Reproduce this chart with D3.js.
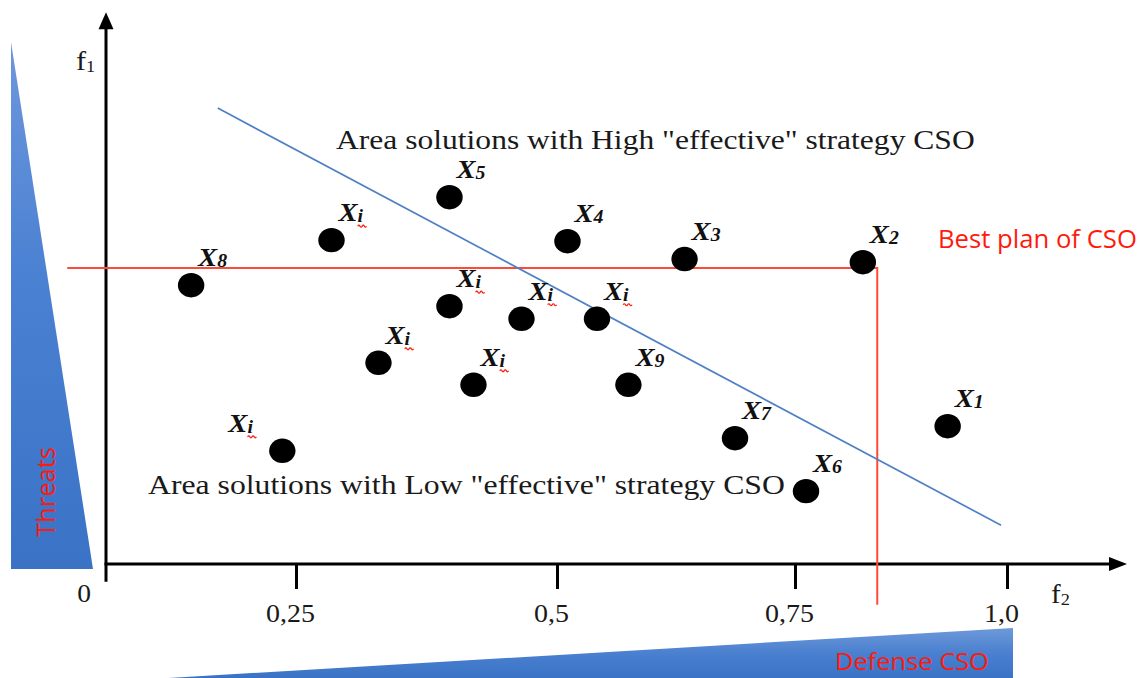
<!DOCTYPE html>
<html><head><meta charset="utf-8">
<script src="https://cdn.jsdelivr.net/npm/d3@7"></script>
<style>html,body{margin:0;padding:0;background:#fff;overflow:hidden;} svg{display:block;}</style>
</head><body>
<svg id="chart" width="1147" height="678"></svg>
<script>
// ---------------- data ----------------
const pointBase = "X";
const pointSubs = ["1","2","3","4","5","6","7","8","9","i","i","i","i","i","i","i"];
const f2Values = [0.930,0.830,0.634,0.511,0.397,0.763,0.687,0.112,0.575,0.284,0.397,0.466,0.542,0.329,0.420,0.232];
const f1Values = [0.263,0.576,0.582,0.616,0.700,0.139,0.240,0.532,0.342,0.618,0.492,0.468,0.468,0.384,0.342,0.216];
const xTickValues = [0.25,0.5,0.75,1.0];
const xTickLabels = ["0,25","0,5","0,75","1,0"];
const originLabel = "0";
const frontierF2 = [0.147, 0.993];
const frontierF1 = [0.870, 0.074];
const bestPlanF2 = [-0.051, 0.847, 0.847];
const bestPlanF1 = [0.565, 0.565, -0.078];
const topAreaText = 'Area solutions with High "effective" strategy CSO';
const lowAreaText = 'Area solutions with Low "effective" strategy CSO';
const bestPlanText = "Best plan of CSO";
const threatsText = "Threats";
const defenseText = "Defense CSO";
const yAxisName = ["f","1"];
const xAxisName = ["f","2"];

// ---------------- setup ----------------
const svg = d3.select("#chart");
svg.append("rect").attr("width",1147).attr("height",678).attr("fill","#fff");
const x = d3.scaleLinear().domain([0,0.25,0.5,0.75,1]).range([106,296,557,795,1007]);
const y = d3.scaleLinear().domain([0,1]).range([564,40]);
const SERIF = "Liberation Serif, Times New Roman, serif";
const SANS = "Open Sans, Noto Sans, sans-serif";
const RED = "#ff1a0d";

const defs = svg.append("defs");
const g1 = defs.append("linearGradient").attr("id","gradL").attr("gradientUnits","userSpaceOnUse")
  .attr("x1",0).attr("y1",42).attr("x2",0).attr("y2",569);
g1.append("stop").attr("offset",0).attr("stop-color","#6d97dc");
g1.append("stop").attr("offset",0.45).attr("stop-color","#4a81d2");
g1.append("stop").attr("offset",1).attr("stop-color","#3a72c6");
const g2 = defs.append("linearGradient").attr("id","gradB").attr("gradientUnits","userSpaceOnUse")
  .attr("x1",0).attr("y1",628).attr("x2",0).attr("y2",678);
g2.append("stop").attr("offset",0).attr("stop-color","#6e99da");
g2.append("stop").attr("offset",0.5).attr("stop-color","#4a80cf");
g2.append("stop").attr("offset",1).attr("stop-color","#3a72c6");

// decorative wedges
svg.append("path").attr("d","M11,42 L11,569 L93,569 Z").attr("fill","url(#gradL)");
svg.append("path").attr("d","M135,680 L1013,628 L1013,690 L135,690 Z").attr("fill","url(#gradB)");

function fitText(parent, str, o){
  const g = parent.append("g").attr("transform",`translate(${o.x},${o.y})${o.rotate?` rotate(${o.rotate})`:""}`);
  const t = g.append("text").text(str)
    .attr("font-family",o.family).attr("font-size",o.size).attr("fill",o.fill)
    .attr("font-weight",o.weight||"normal").attr("text-anchor",o.anchor||"start");
  const len = t.node().getComputedTextLength();
  if (o.width) t.attr("transform",`scale(${o.width/len},1)`);
  return t;
}

// ---------------- axes ----------------
const xAxis = d3.axisBottom(x).tickValues(xTickValues).tickSize(25).tickFormat((d,i)=>xTickLabels[i]);
const gx = svg.append("g").attr("transform",`translate(0,${y(0)})`).call(xAxis);
gx.select(".domain").remove();
gx.selectAll(".tick line").attr("stroke","#000").attr("stroke-width",3);
gx.selectAll(".tick text").attr("y",58).attr("dy",0).attr("font-size",25)
  .attr("font-family",SERIF).attr("fill","#1a1a1a").attr("transform","translate(-6,0) scale(1.12,1)");

const xEnd = x(1.1415), yTop = y(1.053);
svg.append("line").attr("x1",x(0)-1.5).attr("x2",xEnd-14).attr("y1",y(0)).attr("y2",y(0))
  .attr("stroke","#000").attr("stroke-width",3);
svg.append("path").attr("d",`M${xEnd},${y(0)} L${xEnd-18},${y(0)-7} L${xEnd-18},${y(0)+7} Z`).attr("fill","#000");
svg.append("line").attr("x1",x(0)).attr("x2",x(0)).attr("y1",y(-0.034)).attr("y2",yTop+14)
  .attr("stroke","#000").attr("stroke-width",3);
svg.append("path").attr("d",`M${x(0)},${yTop} L${x(0)-7.5},${yTop+17} L${x(0)+7.5},${yTop+17} Z`).attr("fill","#000");

svg.append("g").attr("transform",`translate(${x(0)-22},602) scale(1.1,1)`)
  .append("text").attr("text-anchor","middle").attr("font-family",SERIF).attr("font-size",25)
  .attr("fill","#1a1a1a").text(originLabel);

// axis names
function axisName(parts, px, py, big, small){
  const t = svg.append("g").attr("transform",`translate(${px},${py}) scale(1.08,1)`).append("text")
    .attr("font-family",SERIF).attr("fill","#1a1a1a");
  t.append("tspan").attr("font-size",big).text(parts[0]);
  t.append("tspan").attr("font-size",small).attr("dy",2).text(parts[1]);
}
axisName(yAxisName, 76, 70, 28, 17);
axisName(xAxisName, 1051, 603, 27, 17);

// ---------------- lines ----------------
const line = d3.line().x(d=>x(d[0])).y(d=>y(d[1]));
svg.append("path").datum(d3.zip(bestPlanF2,bestPlanF1)).attr("d",line)
  .attr("fill","none").attr("stroke","#ff4a3a").attr("stroke-width",2);
svg.append("path").datum(d3.zip(frontierF2,frontierF1)).attr("d",line)
  .attr("fill","none").attr("stroke","#4f80c4").attr("stroke-width",1.7);

// ---------------- points ----------------
const pts = pointSubs.map((s,i)=>({sub:s, f2:f2Values[i], f1:f1Values[i], i}));
svg.append("g").selectAll("ellipse").data(pts).join("ellipse")
  .attr("cx",d=>x(d.f2)).attr("cy",d=>y(d.f1)).attr("rx",13.2).attr("ry",12.2).attr("fill","#000");

const leftLabel = new Set([15]);
const lg = svg.append("g").selectAll("g").data(pts).join("g")
  .attr("transform",d=>`translate(${x(d.f2)+(leftLabel.has(d.i)?-54:7)},${y(d.f1)-19}) scale(1.1,1)`);
const lt = lg.append("text").attr("font-family",SERIF).attr("font-weight","bold").attr("font-style","italic").attr("fill","#111");
lt.append("tspan").attr("font-size",26).text(pointBase);
lt.append("tspan").attr("font-size",18).attr("dy",1).text(d=>d.sub);
lg.filter(d=>d.sub==="i").append("path")
  .attr("d","M17.5,5 q1,-2 2,0 t2,0 t2,0 t2,0")
  .attr("fill","none").attr("stroke",RED).attr("stroke-width",1.2);

// ---------------- annotations ----------------
fitText(svg, topAreaText, {x:336, y:149, size:27.5, family:SERIF, fill:"#1a1a1a", width:639});
fitText(svg, lowAreaText, {x:148, y:494, size:27.5, family:SERIF, fill:"#1a1a1a", width:637});
fitText(svg, bestPlanText, {x:938, y:248, size:25, family:SANS, fill:RED, width:199});
fitText(svg, threatsText, {x:55, y:492, size:25, family:SANS, fill:RED, width:90, rotate:-90, anchor:"middle"});
fitText(svg, defenseText, {x:835, y:670, size:24, family:SANS, fill:RED, width:154});
</script>
</body></html>
